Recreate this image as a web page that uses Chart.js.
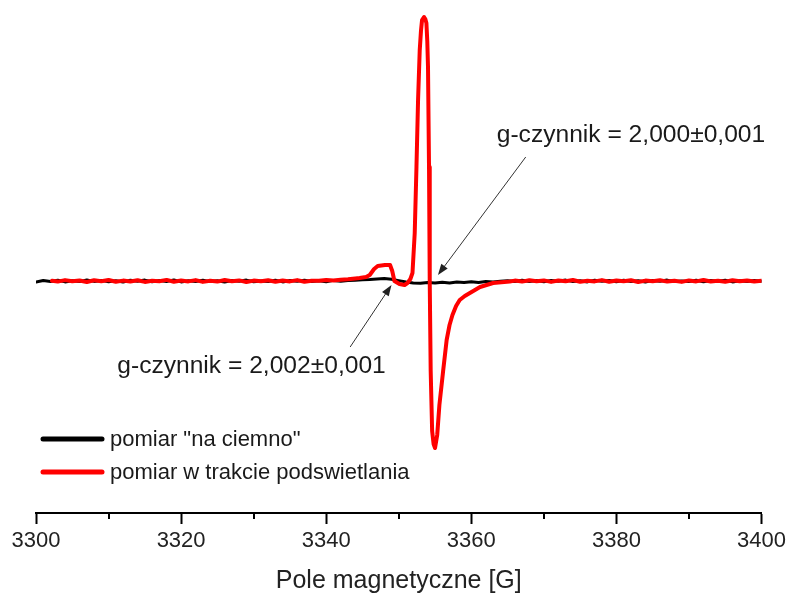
<!DOCTYPE html>
<html><head><meta charset="utf-8">
<script src="https://cdn.jsdelivr.net/npm/chart.js@4"></script>
<style>html,body{margin:0;padding:0;background:#fff;}canvas{display:block;}</style>
</head><body>
<canvas id="c" width="790" height="596"></canvas>
<script>
// ---- data (field in G, signal in arbitrary units) ----
const darkField = [
 3300,3301,3302,3303,3304,3305,3306,3307,3308,3309,
 3310,3311,3312,3313,3314,3315,3316,3317,3318,3319,
 3320,3321,3322,3323,3324,3325,3326,3327,3328,3329,
 3330,3331,3332,3333,3334,3335,3336,3337,3338,3339,
 3340,3341,3342,3343,3344,3345,3346,3347,3348,3349,
 3350,3351,3352,3353,3354,3355,3356,3357,3358,3359,
 3360,3361,3362,3363,3364,3365,3366,3367,3368,3369,
 3370,3371,3372,3373,3374,3375,3376,3377,3378,3379,
 3380,3381,3382,3383,3384,3385,3386,3387,3388,3389,
 3390,3391,3392,3393,3394,3395,3396,3397,3398,3399,
 3400];
const darkSignal = [
 -1.0,0.5,-0.4,0.8,-0.9,0.3,-0.6,1.0,-0.4,0.6,
 -0.8,0.2,-1.1,0.7,-0.3,0.9,-0.7,0.4,-0.5,1.1,
 -0.9,0.2,-0.4,0.8,-0.6,0.3,-1.0,0.5,-0.2,0.9,
 -0.7,0.1,-0.5,0.8,-0.9,0.4,-0.3,0.7,-0.6,0.2,
 -0.8,0.6,-0.2,0.4,0.8,1.2,1.5,2.0,2.4,1.8,
 0.4,-1.0,-1.9,-2.3,-1.5,-2.1,-1.2,-1.9,-1.0,-1.6,
 -0.7,-1.4,-0.6,-1.0,-0.2,0.3,-0.6,0.7,-0.4,0.5,
 -0.8,0.6,-0.3,0.9,-0.5,0.2,-0.9,0.7,-0.2,0.4,
 -0.7,0.8,-0.4,0.3,-1.0,0.6,-0.3,0.9,-0.6,0.1,
 -0.5,0.8,-0.8,0.4,-0.2,0.7,-0.9,0.3,-0.4,0.6,
 -0.3];
const lightField = [
 3302.2,
 3303,3304,3305,3306,3307,3308,3309,3310,3311,3312,
 3313,3314,3315,3316,3317,3318,3319,3320,3321,3322,
 3323,3324,3325,3326,3327,3328,3329,3330,3331,3332,
 3333,3334,3335,3336,3337,3338,3339,3340,3341,3342,
 3343,3344,
 3344.6,3345.5,3346.0,3346.6,3347.1,3348.1,3348.8,3349.1,3349.4,3350.1,
 3350.8,3351.2,3351.6,3351.89,3352.2,3352.44,3352.66,3352.89,3353.06,3353.21,
 3353.48,3353.66,3353.81,3353.93,3354.03,3354.17,3354.27,3354.4,3354.6,3354.8,
 3355.0,3355.3,3355.6,3356.1,3356.6,3357.0,3357.4,3357.9,3358.4,3359.1,
 3359.8,3361.2,3363.0,3365.3,
 3366,3367,3368,3369,3370,3371,3372,3373,3374,3375,
 3376,3377,3378,3379,3380,3381,3382,3383,3384,3385,
 3386,3387,3388,3389,3390,3391,3392,3393,3394,3395,
 3396,3397,3398,3399,3400];
const lightSignal = [
 0.3,
 -0.6,0.9,-0.3,0.5,-1.0,0.7,-0.2,1.0,-0.8,0.4,
 -0.5,0.8,-0.9,0.2,-0.3,1.1,-0.7,0.5,-0.4,0.9,
 -0.9,0.3,-0.6,1.0,-0.2,0.6,-1.0,0.4,-0.3,0.8,
 -0.7,0.5,-0.4,0.9,-0.8,0.3,0.2,1.0,0.4,1.3,
 1.8,2.5,
 3,4,6,12,15,16,16,10,0,-3,
 -4,-2,2,8,48,114,181,231,250,261,
 264,262,258,240,214,114,-2,-90,-150,-163,
 -167,-154,-124,-91,-59,-44,-34,-25,-19,-15,
 -12,-6,-2,-0.5,
 0.4,-0.6,0.8,-0.3,0.6,-0.9,0.5,-0.2,1.0,-0.7,
 0.3,-0.4,0.9,-0.8,0.5,-0.3,0.7,-1.0,0.4,-0.2,
 0.8,-0.6,0.3,-0.9,0.6,-0.4,1.0,-0.5,0.2,-0.8,
 0.7,-0.3,0.5,-0.6,0.2];
const majorTicks = [3300,3320,3340,3360,3380,3400];
const minorTicks = [3310,3330,3350,3370,3390];
const seriesLabels = ['pomiar "na ciemno"', 'pomiar w trakcie podswietlania'];
const noteTexts = ['g-czynnik = 2,000\u00B10,001', 'g-czynnik = 2,002\u00B10,001'];
const axisTitle = 'Pole magnetyczne [G]';

// ---- annotation anchors in data units ----
const notes = [
  {text: noteTexts[0], at: [3363.5, 139], from: [3367.5, 124], to: [3355.4, 6]},
  {text: noteTexts[1], at: [3311.2, -92], from: [3343.3, -66], to: [3349.0, -4]}
];

const FONT = '"Liberation Sans", Arial, sans-serif';
const colors = ['#000000', '#ff0000'];

const decor = {
  id: 'decor',
  afterDraw(chart) {
    const {ctx, chartArea: a, scales: {x, y}} = chart;
    ctx.save();
    // minor ticks
    ctx.strokeStyle = '#000'; ctx.lineWidth = 2;
    minorTicks.forEach(v => {
      const px = Math.round(x.getPixelForValue(v));
      ctx.beginPath(); ctx.moveTo(px, a.bottom); ctx.lineTo(px, a.bottom + 6); ctx.stroke();
    });
    // annotations
    ctx.font = '24.6px ' + FONT; ctx.fillStyle = '#1a1a1a'; ctx.textBaseline = 'alphabetic'; ctx.textAlign = 'left';
    notes.forEach(n => {
      ctx.fillText(n.text, x.getPixelForValue(n.at[0]), y.getPixelForValue(n.at[1]));
      const x1 = x.getPixelForValue(n.from[0]), y1 = y.getPixelForValue(n.from[1]);
      const x2 = x.getPixelForValue(n.to[0]), y2 = y.getPixelForValue(n.to[1]);
      const ang = Math.atan2(y2 - y1, x2 - x1);
      const L = 11, W = 4;
      ctx.strokeStyle = '#333'; ctx.lineWidth = 1;
      ctx.beginPath(); ctx.moveTo(x1, y1);
      ctx.lineTo(x2 - Math.cos(ang) * L * 0.8, y2 - Math.sin(ang) * L * 0.8); ctx.stroke();
      ctx.fillStyle = '#222';
      ctx.beginPath(); ctx.moveTo(x2, y2);
      ctx.lineTo(x2 - Math.cos(ang) * L - Math.sin(ang) * W, y2 - Math.sin(ang) * L + Math.cos(ang) * W);
      ctx.lineTo(x2 - Math.cos(ang) * L + Math.sin(ang) * W, y2 - Math.sin(ang) * L - Math.cos(ang) * W);
      ctx.closePath(); ctx.fill();
      ctx.fillStyle = '#1a1a1a';
    });
    // legend
    ctx.font = '22px ' + FONT; ctx.textBaseline = 'middle';
    seriesLabels.forEach((lab, i) => {
      const ly = a.top + 439 + i * 33;
      ctx.strokeStyle = colors[i]; ctx.lineWidth = 5; ctx.lineCap = 'round';
      ctx.beginPath(); ctx.moveTo(a.left + 7, ly); ctx.lineTo(a.left + 66, ly); ctx.stroke();
      ctx.fillStyle = '#1a1a1a';
      ctx.fillText(lab, a.left + 74, ly + 1);
    });
    ctx.restore();
  }
};

const toPts = (xs, ys) => xs.map((v, i) => ({x: v, y: ys[i]}));

new Chart(document.getElementById('c'), {
  type: 'line',
  data: {
    datasets: [
      {label: seriesLabels[1], data: toPts(lightField, lightSignal), borderColor: colors[1], borderWidth: 4,
       pointRadius: 0, tension: 0, order: 0, borderJoinStyle: 'round', borderCapStyle: 'round', fill: false},
      {label: seriesLabels[0], data: toPts(darkField, darkSignal), borderColor: colors[0], borderWidth: 3,
       pointRadius: 0, tension: 0, order: 1, borderJoinStyle: 'round', borderCapStyle: 'round', fill: false}
    ]
  },
  options: {
    responsive: false, animation: false, devicePixelRatio: 1,
    layout: {padding: {left: 36, right: 28, top: 0, bottom: 0}},
    plugins: {legend: {display: false}, tooltip: {enabled: false}},
    scales: {
      x: {
        type: 'linear', min: 3300, max: 3400,
        afterBuildTicks: s => { s.ticks = majorTicks.map(v => ({value: v})); },
        ticks: {font: {size: 22, family: FONT}, color: '#222', padding: 4, maxRotation: 0,
                callback: v => String(v)},
        grid: {drawOnChartArea: false, tickLength: 11, tickWidth: 2, tickColor: '#000'},
        border: {color: '#000', width: 2},
        title: {display: true, text: axisTitle, font: {size: 25, family: FONT}, color: '#222', padding: {top: 0, bottom: 0}},
        afterFit: s => { s.height = 83; }
      },
      y: {display: false, min: -232, max: 281}
    }
  },
  plugins: [decor]
});
</script>
</body></html>
